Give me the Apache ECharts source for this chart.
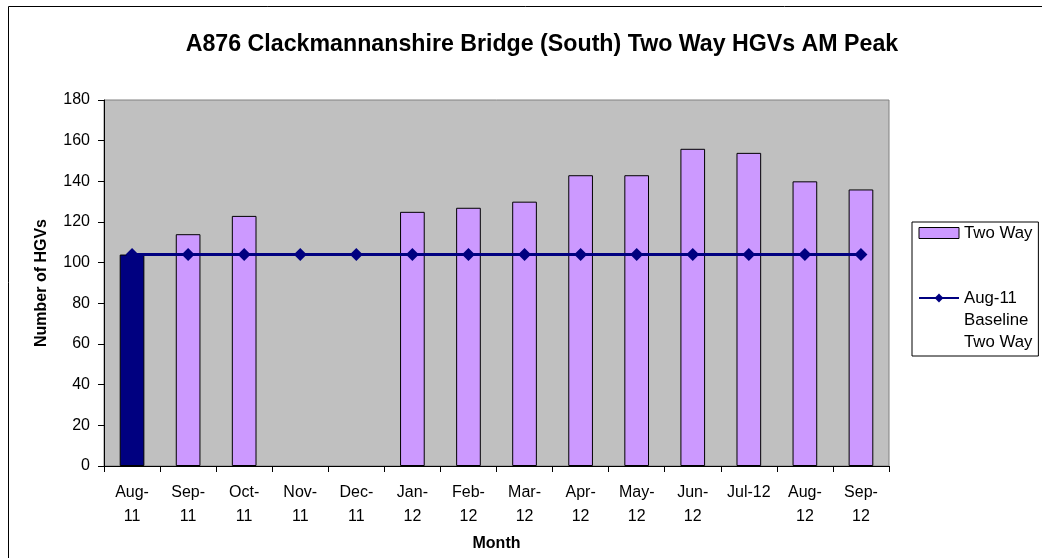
<!DOCTYPE html>
<html>
<head>
<meta charset="utf-8">
<script src="https://cdn.jsdelivr.net/npm/echarts@6/dist/echarts.min.js"></script>
<style>
html,body{margin:0;padding:0;background:#fff;}
#chart{width:1042px;height:558px;}
</style>
</head>
<body>
<div id="chart"></div>
<script>
// ---- data ----
var categories = ['Aug-11','Sep-11','Oct-11','Nov-11','Dec-11','Jan-12','Feb-12','Mar-12','Apr-12','May-12','Jun-12','Jul-12','Aug-12','Sep-12'];
var tickLabels = ['Aug-\n11','Sep-\n11','Oct-\n11','Nov-\n11','Dec-\n11','Jan-\n12','Feb-\n12','Mar-\n12','Apr-\n12','May-\n12','Jun-\n12','Jul-12','Aug-\n12','Sep-\n12'];
var twoWay = [104, 114, 123, null, null, 125, 127, 130, 143, 143, 156, 154, 140, 136];
var baseline = [104, 104, 104, 104, 104, 104, 104, 104, 104, 104, 104, 104, 104, 104];
var yTicks = [0, 20, 40, 60, 80, 100, 120, 140, 160, 180];
var barName = 'Two Way';
var lineName = 'Aug-11\nBaseline\nTwo Way';

var chart = echarts.init(document.getElementById('chart'), null, {renderer:'canvas'});
var FONT = 'Liberation Sans, Arial, sans-serif';

var barData = twoWay.map(function(v, i){
  if (i === 0) return {value: v, itemStyle: {color: '#000080'}};
  return v;
});

chart.setOption({
  animation: false,
  backgroundColor: '#ffffff',
  textStyle: {fontFamily: FONT},
  graphic: [{
    type: 'rect', z: -10, silent: true,
    shape: {x: 8.5, y: 6.5, width: 1100, height: 600},
    style: {fill: '#ffffff', stroke: '#000000', lineWidth: 1}
  }],
  title: {
    text: 'A876 Clackmannanshire Bridge (South) Two Way HGVs AM Peak',
    left: 537, top: 28, textAlign: 'center',
    textStyle: {fontFamily: FONT, fontSize: 23.2, fontWeight: 'bold', color: '#000'}
  },
  legend: {
    orient: 'vertical',
    left: 912, top: 222,
    padding: [0, 6, 3, 6],
    itemGap: -1,
    itemWidth: 40, itemHeight: 11,
    borderColor: '#000', borderWidth: 1,
    backgroundColor: '#fff',
    data: [
      {name: barName, icon: 'rect', itemStyle: {color: '#CC99FF', borderColor: '#000', borderWidth: 1}},
      {name: lineName}
    ],
    textStyle: {fontFamily: FONT, fontSize: 16.8, color: '#000', lineHeight: 22},
    formatter: function(n){ return n === lineName ? '\n\n' + n : n; }
  },
  grid: {
    left: 104, right: 153, top: 100, bottom: 92,
    show: true, backgroundColor: '#C0C0C0', borderColor: '#808080', borderWidth: 1
  },
  xAxis: {
    type: 'category',
    data: categories,
    name: 'Month',
    nameLocation: 'middle',
    nameGap: 70,
    nameTextStyle: {fontFamily: FONT, fontSize: 16, fontWeight: 'bold', color: '#000'},
    axisLine: {show: true, lineStyle: {color: '#000', width: 1}},
    axisTick: {show: true, alignWithLabel: false, length: 6, lineStyle: {color: '#000'}},
    axisLabel: {
      interval: 0, margin: 15, color: '#000', fontFamily: FONT, fontSize: 16, lineHeight: 24,
      formatter: function(v, i){ return tickLabels[i]; }
    },
    splitLine: {show: false}
  },
  yAxis: {
    type: 'value',
    min: 0, max: 180, interval: 20,
    name: 'Number of HGVs',
    nameLocation: 'middle',
    nameGap: 54,
    nameTextStyle: {fontFamily: FONT, fontSize: 16, fontWeight: 'bold', color: '#000'},
    axisLine: {show: true, lineStyle: {color: '#000', width: 1}},
    axisTick: {show: true, length: 6, lineStyle: {color: '#000'}},
    axisLabel: {margin: 14, color: '#000', fontFamily: FONT, fontSize: 16,
      formatter: function(v){ return yTicks.indexOf(v) >= 0 ? String(v) : ''; }},
    splitLine: {show: false}
  },
  series: [
    {
      name: barName,
      type: 'bar',
      data: barData,
      barWidth: '44%',
      itemStyle: {color: '#CC99FF', borderColor: '#000', borderWidth: 1},
      z: 2
    },
    {
      name: lineName,
      type: 'line',
      data: baseline,
      symbol: 'diamond',
      symbolSize: 13,
      showSymbol: true,
      lineStyle: {color: '#000080', width: 3},
      itemStyle: {color: '#000080'},
      z: 3
    }
  ]
});
</script>
</body>
</html>
